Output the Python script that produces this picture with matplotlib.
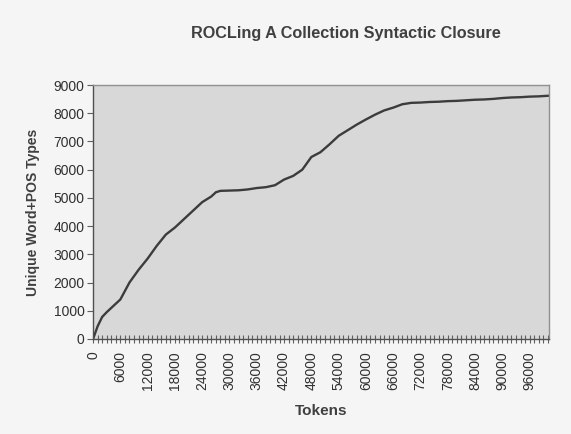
import matplotlib
matplotlib.use("Agg")
import matplotlib.pyplot as plt
from matplotlib.ticker import MultipleLocator, FixedLocator
import numpy as np

tokens = [0, 1000, 2000, 3000, 4000, 5000, 6000, 7000, 8000, 10000, 12000, 14000,
          16000, 18000, 20000, 22000, 24000, 26000, 27000, 28000, 30000, 32000,
          34000, 36000, 38000, 40000, 42000, 44000, 46000, 48000, 50000, 52000,
          54000, 56000, 58000, 60000, 62000, 64000, 66000, 68000, 70000, 72000,
          74000, 76000, 78000, 80000, 82000, 84000, 86000, 88000, 90000, 92000,
          94000, 96000, 98000, 100000]
types = [0, 450, 780, 950, 1100, 1250, 1400, 1700, 2000, 2450, 2850, 3300,
         3700, 3950, 4250, 4550, 4850, 5050, 5200, 5250, 5260, 5270,
         5300, 5350, 5380, 5450, 5650, 5780, 6000, 6450, 6620, 6900,
         7200, 7400, 7600, 7780, 7950, 8100, 8200, 8320, 8370, 8380,
         8400, 8410, 8430, 8440, 8460, 8480, 8490, 8510, 8540, 8560,
         8570, 8590, 8600, 8620]
x_tick_labels = ["0", "6000", "12000", "18000", "24000", "30000", "36000", "42000",
                 "48000", "54000", "60000", "66000", "72000", "78000", "84000",
                 "90000", "96000"]
y_ticks = [0, 1000, 2000, 3000, 4000, 5000, 6000, 7000, 8000, 9000]

plt.rcParams['font.family'] = ['Liberation Sans', 'DejaVu Sans']

fig = plt.figure(figsize=(5.71, 4.34), dpi=100, facecolor='#f5f5f5')
ax = fig.add_axes([0.163, 0.219, 0.798, 0.585])
ax.set_facecolor('#d8d8d8')

ax.plot(tokens, types, color='#3c3c3c', linewidth=1.7)

ax.set_xlim(0, 100200)
ax.set_ylim(0, 9000)

ax.set_yticks(y_ticks)
ax.set_yticklabels([str(v) for v in y_ticks], fontsize=10, color='#303030')
ax.xaxis.set_major_locator(FixedLocator([int(s) for s in x_tick_labels]))
ax.set_xticklabels(x_tick_labels, rotation=90, fontsize=10, color='#303030')
ax.xaxis.set_minor_locator(MultipleLocator(1000))

ax.tick_params(axis='y', direction='out', length=4, width=0.8, color='#606060', pad=2)
ax.tick_params(axis='x', which='both', direction='inout', length=6, width=0.8,
               color='#606060', pad=6)

for side in ['left', 'bottom']:
    ax.spines[side].set_color('#505050')
    ax.spines[side].set_linewidth(1.0)
for side in ['top', 'right']:
    ax.spines[side].set_color('#909090')
    ax.spines[side].set_linewidth(1.0)

ax.set_xlabel('Tokens', fontsize=11, fontweight='bold', color='#404040', labelpad=10)
ax.set_ylabel('Unique Word+POS Types', fontsize=10, fontweight='bold', color='#404040', labelpad=10)

fig.text(0.606, 0.922, 'ROCLing A Collection Syntactic Closure', fontsize=11.7,
         fontweight='bold', color='#404040', ha='center', va='center')

fig.savefig('out.png', dpi=100, facecolor=fig.get_facecolor())
